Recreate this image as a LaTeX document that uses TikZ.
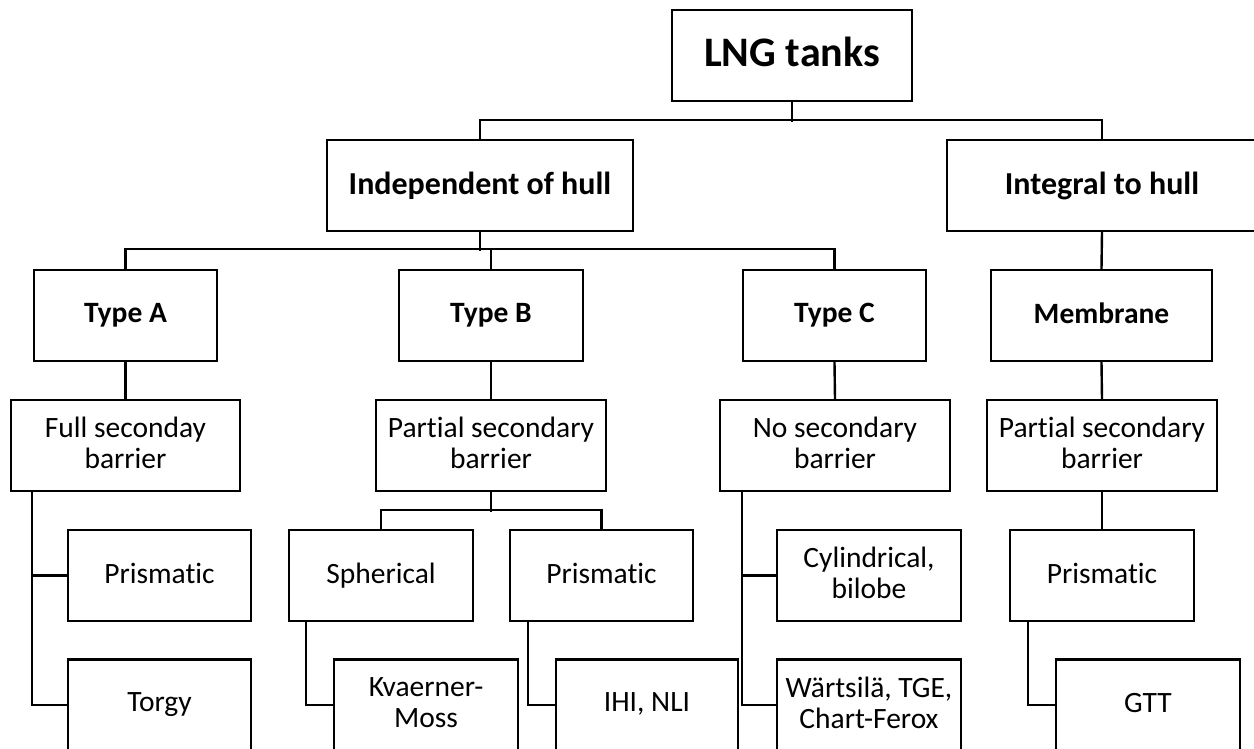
\documentclass[tikz,border=0pt]{standalone}
\usepackage{fontspec}
\setmainfont{Carlito}[Ligatures={NoCommon}]
\newcommand{\tstr}{\rule[-5pt]{0pt}{21pt}}
\newcommand{\hstr}{\rule[-5pt]{0pt}{24pt}}
\newcommand{\lstr}{\rule[-8pt]{0pt}{34pt}}
\begin{document}
\begin{tikzpicture}[x=1pt,y=-1pt,
  box/.style={draw=black, line width=2.4pt, minimum height=91pt, inner sep=0pt, align=center,
    font=\fontsize{29.5}{31}\selectfont},
  bbox/.style={box, font=\fontsize{29.5}{31}\selectfont\bfseries},
  hbox/.style={box, font=\fontsize{32}{34}\selectfont\bfseries},
  link/.style={draw=black, line width=2.4pt}]
\useasboundingbox (0,0) rectangle (1254,749);
% level 0
\node[box, minimum width=240pt, font=\fontsize{42}{46}\selectfont\bfseries] (lng) at (792,55.5) {\lstr LNG tanks};
% level 1
\node[hbox, minimum width=306pt] (indep) at (480,185.5) {\hstr Independent of hull};
\node[hbox, minimum width=310pt] (integral) at (1102,185.5) {\hstr Integral to hull};
% level 2
\node[bbox, minimum width=183pt] (typeA) at (125.5,315.5) {\tstr Type A};
\node[bbox, minimum width=184pt] (typeB) at (491,315.5) {\tstr Type B};
\node[bbox, minimum width=183pt] (typeC) at (834.5,315.5) {\tstr Type C};
\node[bbox, minimum width=221pt] (membrane) at (1101.5,315.5) {\tstr Membrane};
% level 3
\node[box, minimum width=229pt] (full) at (125.5,445.5) {\tstr Full seconday\\\tstr barrier};
\node[box, minimum width=230pt] (partB) at (491,445.5) {\tstr Partial secondary\\\tstr barrier};
\node[box, minimum width=230pt] (nosec) at (835,445.5) {\tstr No secondary\\\tstr barrier};
\node[box, minimum width=230pt] (partM) at (1102,445.5) {\tstr Partial secondary\\\tstr barrier};
% level 4
\node[box, minimum width=183pt] (prisA) at (159.5,575.5) {\tstr Prismatic};
\node[box, minimum width=184pt] (sph) at (381,575.5) {\tstr Spherical};
\node[box, minimum width=183pt] (prisB) at (601.5,575.5) {\tstr Prismatic};
\node[box, minimum width=184pt] (cyl) at (869,575.5) {\tstr Cylindrical,\\\tstr bilobe};
\node[box, minimum width=184pt] (prisM) at (1102,575.5) {\tstr Prismatic};
% level 5
\node[box, minimum width=183pt] (torgy) at (159.5,705) {\tstr Torgy};
\node[box, minimum width=184pt] (kvae) at (426,705) {\tstr Kvaerner-\\\tstr Moss};
\node[box, minimum width=182pt] (ihi) at (647,705) {\tstr IHI, NLI};
\node[box, minimum width=184pt] (wart) at (869,705) {\tstr Wärtsilä, TGE,\\\tstr Chart-Ferox};
\node[box, minimum width=184pt] (gtt) at (1148,705) {\tstr GTT};
% connectors level 0-1
\draw[link] (lng.south) -- ++(0,20);
\draw[link] (indep.north) -- ++(0,-19) -| (integral.north);
% level 1-2
\draw[link] (indep.south) -- ++(0,19);
\draw[link] (typeA.north) -- ++(0,-20) -| (typeC.north);
\draw[link] (typeB.north) -- ++(0,-20);
\draw[link] (integral.south) -- (membrane.north);
% level 2-3
\draw[link] (typeA.south) -- (full.north);
\draw[link] (typeB.south) -- (partB.north);
\draw[link] (typeC.south) -- (nosec.north);
\draw[link] (membrane.south) -- (partM.north);
% level 3-4
\draw[link] ([xshift=22pt]full.south west) |- (prisA.west);
\draw[link] ([xshift=22pt]full.south west) |- (torgy.west);
\draw[link] (partB.south) -- ++(0,20);
\draw[link] (sph.north) -- ++(0,-19) -| (prisB.north);
\draw[link] ([xshift=23pt]nosec.south west) |- (cyl.west);
\draw[link] ([xshift=23pt]nosec.south west) |- (wart.west);
\draw[link] (partM.south) -- (prisM.north);
% level 4-5
\draw[link] ([xshift=18pt]sph.south west) |- (kvae.west);
\draw[link] ([xshift=19pt]prisB.south west) |- (ihi.west);
\draw[link] ([xshift=19pt]prisM.south west) |- (gtt.west);
\end{tikzpicture}
\end{document}
